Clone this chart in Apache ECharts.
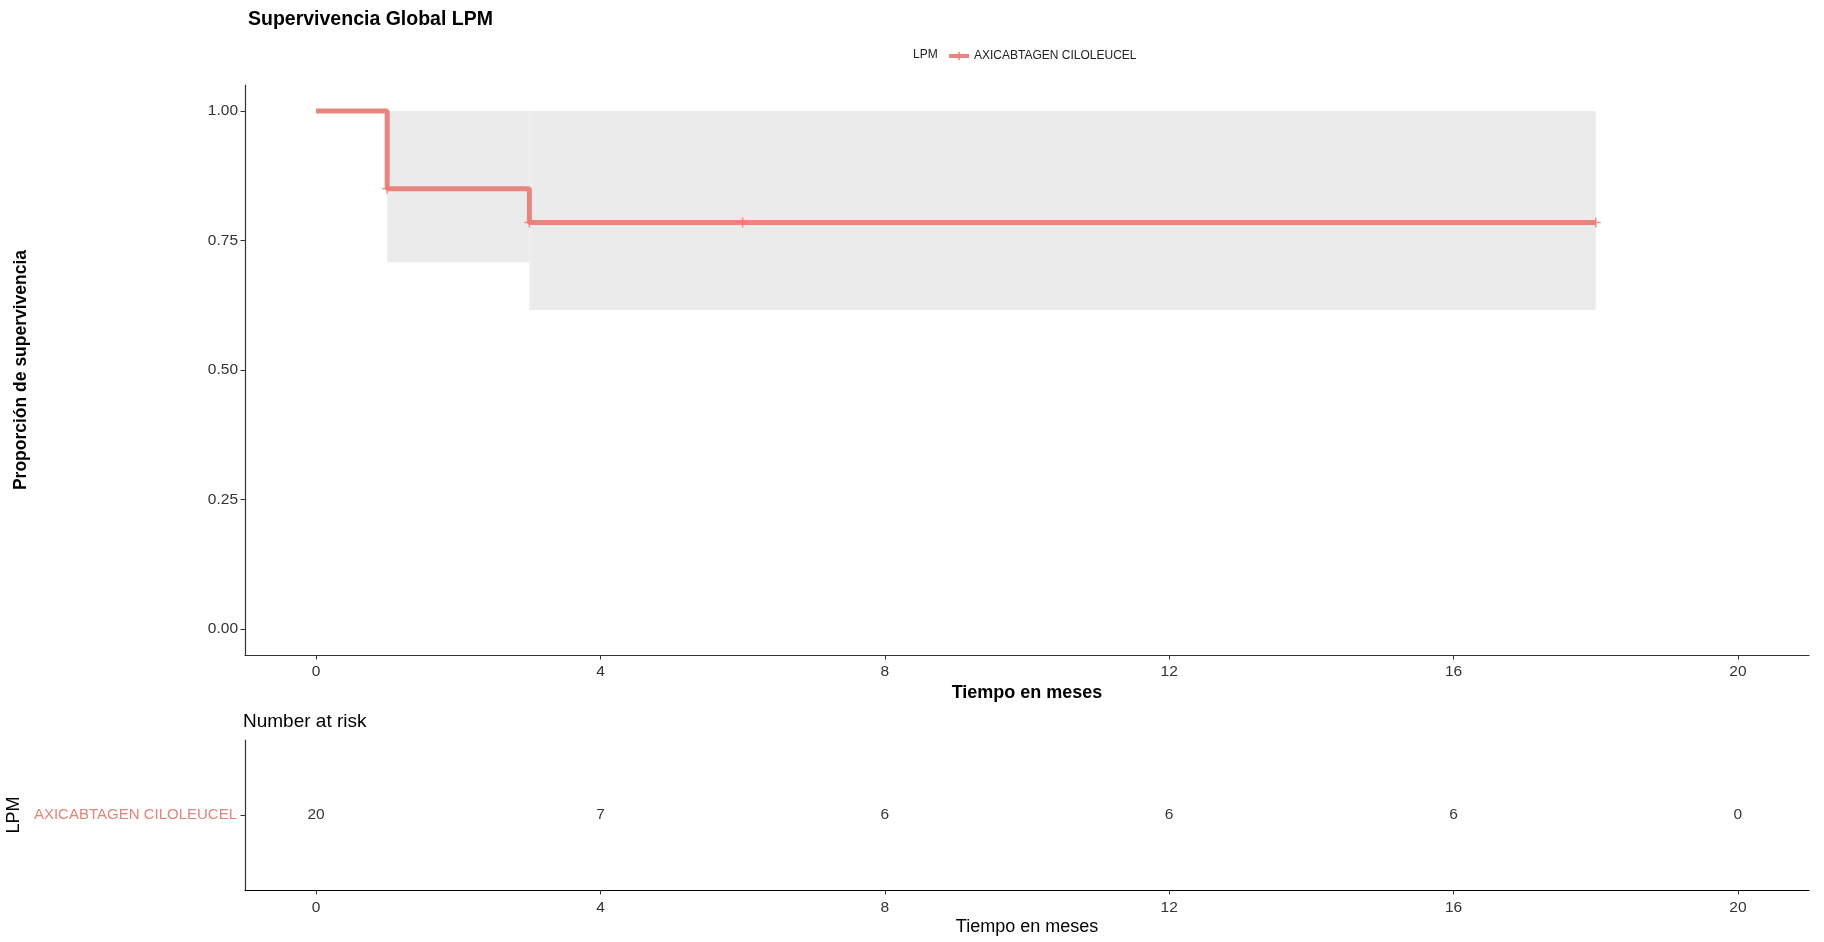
<!DOCTYPE html>
<html>
<head>
<meta charset="utf-8">
<script src="https://cdn.jsdelivr.net/npm/echarts@6/dist/echarts.min.js"></script>
<style>
html,body{margin:0;padding:0;background:#fff;}
#c{width:1824px;height:942px;}
</style>
</head>
<body>
<div id="c"></div>
<script>
// ---- data ----
const groupName = 'AXICABTAGEN CILOLEUCEL';
const survTimes = [0, 1, 3, 18];
const survProbs = [1.0, 0.85, 0.7846, 0.7846];
const censorTimes = [1, 3, 6, 18];
const censorProbs = [0.85, 0.7846, 0.7846, 0.7846];
const ciStart = [1, 3];
const ciEnd = [3, 18];
const ciLower = [0.708, 0.616];
const ciUpper = [1.0, 1.0];
const xTicks = [0, 4, 8, 12, 16, 20];
const yTicks = [0, 0.25, 0.5, 0.75, 1.0];
const riskTimes = [0, 4, 8, 12, 16, 20];
const riskCounts = [20, 7, 6, 6, 6, 0];

const FONT = 'Liberation Sans, Arial, sans-serif';
const lineColor = '#E9857F';
const markColor = '#F2766E';

const chart = echarts.init(document.getElementById('c'), null, {renderer: 'canvas'});

const survData = survTimes.map((t, i) => [t, survProbs[i]]);
const censorData = censorTimes.map((t, i) => [t, censorProbs[i]]);
const ciData = ciStart.map((s, i) => [s, ciEnd[i], ciLower[i], ciUpper[i]]);
const riskData = riskTimes.map((t, i) => [t, groupName, riskCounts[i]]);

const xAxisCommon = {
  type: 'value', min: -1, max: 21,
  axisLine: {show: true, onZero: false, lineStyle: {color: '#333', width: 1.2}},
  axisTick: {show: true, length: 4.5, lineStyle: {color: '#333'}, customValues: xTicks},
  axisLabel: {color: '#333', fontSize: 15.5, fontFamily: FONT, margin: 8.5, customValues: xTicks},
  splitLine: {show: false},
  nameLocation: 'middle'
};

const option = {
  animation: false,
  backgroundColor: '#fff',
  title: {
    text: 'Supervivencia Global LPM', left: 243, top: 5,
    textStyle: {fontFamily: FONT, fontSize: 19.5, fontWeight: 'bold', color: '#000'}
  },
  legend: {
    left: 944, top: 45,
    itemWidth: 20, itemHeight: 10, itemGap: 8,
    icon: 'path://M0,3L20,3L20,7L0,7Z M9.2,1L10.8,1L10.8,9L9.2,9Z',
    textStyle: {fontFamily: FONT, fontSize: 12, color: '#222'},
    data: [groupName]
  },
  graphic: [
    {type: 'text', x: 913, y: 55, style: {text: 'LPM', font: '12px ' + FONT, fill: '#222', verticalAlign: 'middle'}},
    {type: 'text', x: 243, y: 722, style: {text: 'Number at risk', font: '19px ' + FONT, fill: '#000', verticalAlign: 'middle'}}
  ],
  grid: [
    {left: 245, top: 85, width: 1564, height: 570, outerBoundsMode: 'none', containLabel: false},
    {left: 245, top: 740, width: 1564, height: 150, outerBoundsMode: 'none', containLabel: false}
  ],
  xAxis: [
    Object.assign({}, xAxisCommon, {
      gridIndex: 0, name: 'Tiempo en meses', nameGap: 26,
      nameTextStyle: {fontFamily: FONT, fontSize: 18, fontWeight: 'bold', color: '#000'}
    }),
    Object.assign({}, xAxisCommon, {
      gridIndex: 1, name: 'Tiempo en meses', nameGap: 28,
      axisLine: {show: true, onZero: false, lineStyle: {color: '#000', width: 1.2}},
      axisLabel: {color: '#333', fontSize: 15.5, fontFamily: FONT, margin: 9.5, customValues: xTicks},
      nameTextStyle: {fontFamily: FONT, fontSize: 18, color: '#000'}
    })
  ],
  yAxis: [
    {
      gridIndex: 0, type: 'value', min: -0.05, max: 1.05,
      axisLine: {show: true, onZero: false, lineStyle: {color: '#333', width: 1.2}},
      axisTick: {show: true, length: 4.5, lineStyle: {color: '#333'}, customValues: yTicks},
      axisLabel: {color: '#333', fontSize: 15.5, fontFamily: FONT, margin: 7, customValues: yTicks,
        formatter: v => v.toFixed(2)},
      splitLine: {show: false},
      name: 'Proporción de supervivencia', nameLocation: 'middle', nameGap: 215, nameRotate: 90,
      nameTextStyle: {fontFamily: FONT, fontSize: 17.5, fontWeight: 'bold', color: '#000'}
    },
    {
      gridIndex: 1, type: 'category', data: [groupName],
      axisLine: {show: true, onZero: false, lineStyle: {color: '#333', width: 1.2}},
      axisTick: {show: true, length: 4.5, alignWithLabel: true, lineStyle: {color: '#333'}},
      axisLabel: {color: '#E0857E', fontSize: 15, fontFamily: FONT, margin: 8},
      splitLine: {show: false},
      name: 'LPM', nameLocation: 'middle', nameGap: 216, nameRotate: 90,
      nameTextStyle: {fontFamily: FONT, fontSize: 18, color: '#000'}
    }
  ],
  series: [
    {
      type: 'custom', name: 'ci', xAxisIndex: 0, yAxisIndex: 0, z: 1,
      data: ciData, silent: true,
      renderItem: function (params, api) {
        const p0 = api.coord([api.value(0), api.value(3)]);
        const p1 = api.coord([api.value(1), api.value(2)]);
        return {
          type: 'rect',
          shape: {x: p0[0], y: p0[1], width: p1[0] - p0[0], height: p1[1] - p0[1]},
          style: {fill: '#EBEBEB'}
        };
      }
    },
    {
      type: 'line', name: groupName, xAxisIndex: 0, yAxisIndex: 0, z: 3,
      data: survData, step: 'end', showSymbol: false, symbol: 'none',
      itemStyle: {color: lineColor},
      lineStyle: {color: lineColor, width: 5}
    },
    {
      type: 'scatter', name: 'censor', xAxisIndex: 0, yAxisIndex: 0, z: 4,
      data: censorData, symbol: 'path://M5,0L5,10M0,5L10,5', symbolSize: 10,
      itemStyle: {color: 'none', borderColor: markColor, borderWidth: 1.5}
    },
    {
      type: 'scatter', name: 'risk', xAxisIndex: 1, yAxisIndex: 1,
      data: riskData, symbolSize: 0,
      label: {show: true, position: 'inside', formatter: p => String(p.value[2]),
        fontFamily: FONT, fontSize: 15.5, color: '#000'}
    }
  ]
};
chart.setOption(option);
</script>
</body>
</html>
